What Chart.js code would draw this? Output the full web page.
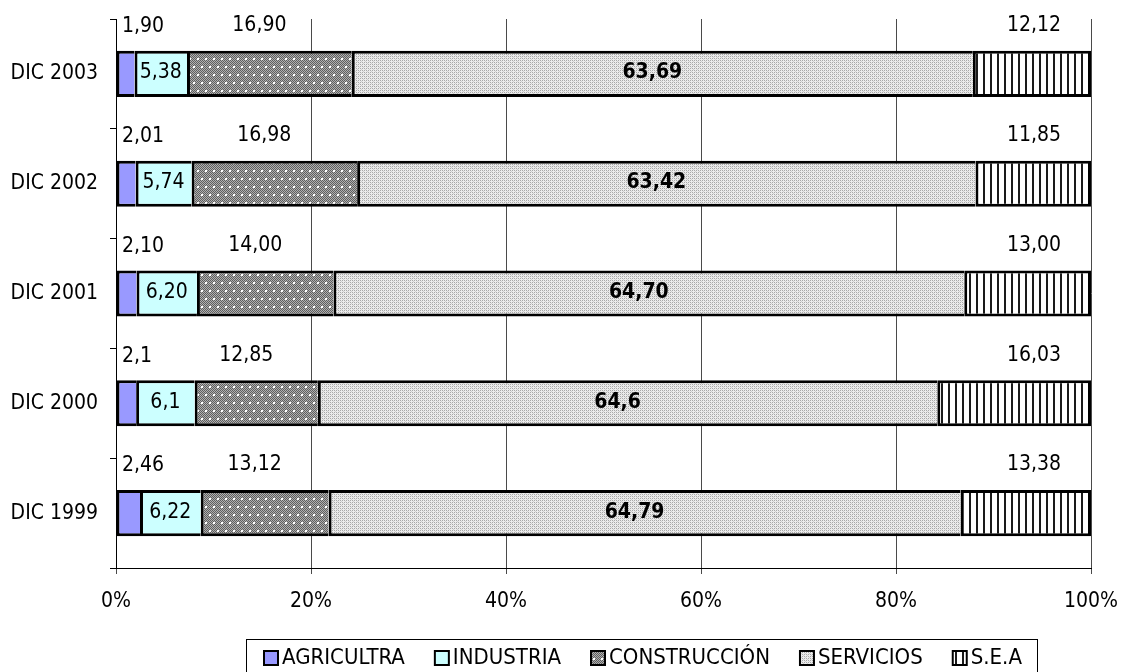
<!DOCTYPE html>
<html>
<head>
<meta charset="utf-8">
<script src="https://cdn.jsdelivr.net/npm/chart.js@4.4.1/dist/chart.umd.min.js"></script>
<style>
  html,body{margin:0;padding:0;background:#fff;}
  #wrap{width:1126px;height:672px;position:relative;}
</style>
</head>
<body>
<div id="wrap"><canvas id="c" width="1126" height="672"></canvas></div>
<script>
// ---- DATA ----
const categories   = ['DIC 2003', 'DIC 2002', 'DIC 2001', 'DIC 2000', 'DIC 1999'];
const agricultra   = ['1,90', '2,01', '2,10', '2,1', '2,46'];
const industria    = ['5,38', '5,74', '6,20', '6,1', '6,22'];
const construccion = ['16,90', '16,98', '14,00', '12,85', '13,12'];
const servicios    = ['63,69', '63,42', '64,70', '64,6', '64,79'];
const sea          = ['12,12', '11,85', '13,00', '16,03', '13,38'];
const seriesNames  = ['AGRICULTRA', 'INDUSTRIA', 'CONSTRUCCIÓN', 'SERVICIOS', 'S.E.A'];
const xTickValues  = [0, 20, 40, 60, 80, 100];

const FONT = "'DejaVu Sans Condensed', 'DejaVu Sans', sans-serif";
const num = s => parseFloat(s.replace(',', '.'));
const seriesText = [agricultra, industria, construccion, servicios, sea];
const seriesNum = seriesText.map(a => a.map(num));
const totals = categories.map((_, i) => seriesNum.reduce((s, a) => s + a[i], 0));
const seriesPct = seriesNum.map(a => a.map((v, i) => v / totals[i] * 100));

// ---- PATTERNS ----
function tile(w, h, draw) {
  const c = document.createElement('canvas');
  c.width = w; c.height = h;
  const g = c.getContext('2d');
  draw(g);
  return document.createElement('canvas').getContext('2d').createPattern(c, 'repeat');
}
const patConstr = tile(8, 16, g => {
  for (let y = 0; y < 16; y++) for (let x = 0; x < 8; x++) {
    g.fillStyle = ((x + y) % 2 === 0) ? '#5e5e5e' : '#b0b0b0';
    g.fillRect(x, y, 1, 1);
  }
  g.fillStyle = '#ffffff';
  g.fillRect(1, 2, 2, 2);
  g.fillRect(5, 10, 2, 2);
});
const patServ = tile(4, 4, g => {
  g.fillStyle = '#ececec'; g.fillRect(0, 0, 4, 4);
  g.fillStyle = '#a8a8a8';
  g.fillRect(0, 0, 1, 1); g.fillRect(2, 0, 1, 1);
  g.fillRect(0, 2, 1, 1); g.fillRect(2, 2, 1, 1);
  g.fillStyle = '#cfcfcf';
  g.fillRect(1, 1, 1, 1); g.fillRect(3, 3, 1, 1);
});
const patSea = tile(7, 4, g => {
  g.fillStyle = '#ffffff'; g.fillRect(0, 0, 7, 4);
  g.fillStyle = '#1a1a1a'; g.fillRect(3, 0, 2, 4);
});
const fills = ['#9999FF', '#CCFFFF', patConstr, patServ, patSea];

// ---- DATASETS ----
const datasets = seriesPct.map((arr, d) => ({
  label: seriesNames[d],
  data: arr,
  backgroundColor: fills[d],
  borderColor: '#000',
  borderWidth: {top: 3, bottom: 3, left: 3, right: d === seriesPct.length - 1 ? 3 : 0},
  borderSkipped: false,
  barPercentage: 0.42,
  categoryPercentage: 1.0
}));

// ---- LABEL PLUGIN ----
const labelPlugin = {
  id: 'segLabels',
  afterDatasetsDraw(chart) {
    const ctx = chart.ctx;
    ctx.save();
    ctx.fillStyle = '#000';
    ctx.textBaseline = 'middle';
    const xs = chart.scales.x;
    chart.data.datasets.forEach((ds, d) => {
      const meta = chart.getDatasetMeta(d);
      meta.data.forEach((el, i) => {
        const p = el.getProps(['x', 'base', 'y', 'height'], true);
        const top = p.y - p.height / 2;
        const mid = (p.x + p.base) / 2;
        const txt = seriesText[d][i];
        ctx.font = '21px ' + FONT;
        if (d === 0) {
          ctx.textAlign = 'left';
          ctx.fillText(txt, xs.getPixelForValue(0) + 6, top - 24);
        } else if (d === 1) {
          ctx.textAlign = 'center';
          ctx.fillText(txt, mid, p.y - 1);
        } else if (d === 2) {
          ctx.textAlign = 'center';
          ctx.fillText(txt, mid - 10, top - 25);
        } else if (d === 3) {
          ctx.font = 'bold 21px ' + FONT;
          ctx.textAlign = 'center';
          ctx.fillText(txt, mid - 10, p.y - 1);
        } else {
          ctx.textAlign = 'right';
          ctx.fillText(txt, p.x - 30, top - 25);
        }
      });
    });
    ctx.restore();
  }
};

// ---- LEGEND PLUGIN ----
const legendPlugin = {
  id: 'boxLegend',
  afterDraw(chart) {
    const ctx = chart.ctx;
    ctx.save();
    ctx.font = '22px ' + FONT;
    ctx.textBaseline = 'middle';
    ctx.textAlign = 'left';
    const boxLeft = 246.5, boxTop = 639.5;
    const gap = 29;
    let x = 263;
    const cy = 658;
    chart.data.datasets.forEach((ds, d) => {
      ctx.fillStyle = '#000';
      ctx.fillRect(x, cy - 8, 16, 16);
      ctx.fillStyle = ds.backgroundColor;
      ctx.fillRect(x + 2, cy - 6, 12, 12);
      ctx.fillStyle = '#000';
      ctx.fillText(ds.label, x + 19, cy);
      x += 19 + ctx.measureText(ds.label).width + gap;
    });
    const boxRight = Math.round(x - gap + 15) + 0.5;
    ctx.strokeStyle = '#000';
    ctx.lineWidth = 1;
    ctx.strokeRect(boxLeft, boxTop, boxRight - boxLeft, 50);
    ctx.restore();
  }
};

Chart.defaults.font.family = FONT;
Chart.defaults.font.size = 21;
Chart.defaults.color = '#000';

new Chart(document.getElementById('c'), {
  type: 'bar',
  data: { labels: categories, datasets },
  options: {
    indexAxis: 'y',
    responsive: false,
    animation: false,
    layout: { padding: { top: 19, right: 35, left: 0, bottom: 64 } },
    plugins: { legend: { display: false }, tooltip: { enabled: false } },
    scales: {
      x: {
        stacked: true,
        min: 0, max: 100,
        afterBuildTicks: s => { s.ticks = xTickValues.map(v => ({ value: v })); },
        afterFit: s => { s.height = 40; s.paddingLeft = 0; s.paddingRight = 0; },
        ticks: { callback: v => v + '%', padding: 15, maxRotation: 0 },
        grid: { color: '#4a4a4a', lineWidth: 1, tickLength: 6, tickColor: '#4a4a4a' },
        border: { color: '#000', width: 1 }
      },
      y: {
        stacked: true,
        offset: true,
        afterFit: s => { s.width = 116; s.paddingTop = 0; s.paddingBottom = 0; },
        ticks: { padding: 12 },
        grid: { offset: true, drawOnChartArea: false, tickLength: 6, color: '#000' },
        border: { color: '#000', width: 1 }
      }
    }
  },
  plugins: [labelPlugin, legendPlugin]
});
</script>
</body>
</html>
